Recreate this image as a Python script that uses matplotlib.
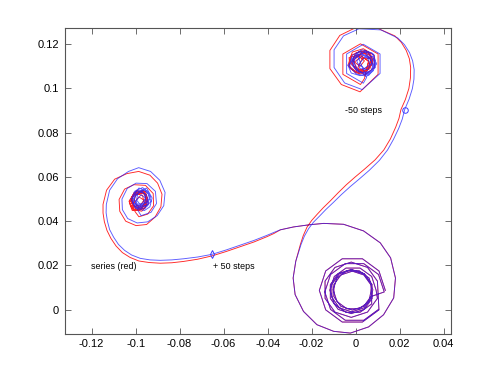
"""Two delay-embedded trajectories (red / blue) with +/-50 step markers."""
import matplotlib
matplotlib.use('Agg')
import matplotlib.pyplot as plt
from matplotlib.ticker import FuncFormatter

plt.rcParams['font.family'] = ['Liberation Sans', 'DejaVu Sans']
plt.rcParams['axes.unicode_minus'] = False

# ---- data ----------------------------------------------------------------
# upper spiral (centre tangle -> hex ring -> outer turn), blue
upper_blue_x = [0.0060, 0.0030, -0.0005, -0.0010, 0.0025, 0.0070, 0.0085, 0.0060, 0.0015, -0.0020,
                0.0000, 0.0045, 0.0090, 0.0080, 0.0040, 0.0015, 0.0040, 0.0065, 0.0050, 0.0005,
                -0.0025, 0.0010, 0.0060, 0.0095, 0.0075, 0.0030, -0.0015, -0.0030, 0.0005, 0.0050,
                0.0080, 0.0070, 0.0035, 0.0005, 0.0020, 0.0055, 0.0075, 0.0045, 0.0010, -0.0010,
                0.0015, 0.0060, 0.0085, 0.0065, 0.0025, -0.0005, -0.0035, -0.0020, 0.0020, 0.0065,
                0.0092, 0.0082, 0.0045, 0.0010, 0.0050,
                0.0035, -0.0041, -0.0041, 0.0035, 0.0111, 0.0111,
                0.0030, -0.0050, -0.0098, -0.0098, -0.0055, 0.0015, 0.0115, 0.0192, 0.0222, 0.0245,
                0.0259, 0.0266, 0.0265, 0.0258, 0.0243]
upper_blue_y = [0.1135, 0.1158, 0.1140, 0.1100, 0.1070, 0.1080, 0.1120, 0.1160, 0.1168, 0.1130,
                0.1085, 0.1065, 0.1095, 0.1145, 0.1140, 0.1110, 0.1090, 0.1110, 0.1150, 0.1155,
                0.1115, 0.1075, 0.1070, 0.1110, 0.1160, 0.1175, 0.1150, 0.1100, 0.1065, 0.1055,
                0.1080, 0.1130, 0.1150, 0.1125, 0.1090, 0.1085, 0.1120, 0.1165, 0.1160, 0.1120,
                0.1078, 0.1060, 0.1090, 0.1138, 0.1155, 0.1135, 0.1105, 0.1070, 0.1058, 0.1072,
                0.1115, 0.1155, 0.1170, 0.1145, 0.1050,
                0.1024, 0.1068, 0.1156, 0.1200, 0.1156, 0.1068,
                0.0995, 0.1025, 0.1095, 0.1175, 0.1238, 0.1270, 0.1265, 0.1228, 0.1198, 0.1162,
                0.1125, 0.1085, 0.1042, 0.1000, 0.0952]

# upper spiral, red
upper_red_x = [0.0000, 0.0030, 0.0065, 0.0075, 0.0045, 0.0005, -0.0020, 0.0000, 0.0045, 0.0080,
               0.0065, 0.0020, -0.0025, -0.0030, 0.0010, 0.0040, 0.0020, -0.0005, 0.0025, 0.0060,
               0.0050, 0.0000, -0.0035, -0.0015, 0.0035, 0.0085, 0.0085, 0.0040, 0.0010, 0.0030,
               0.0070, 0.0060, 0.0015, -0.0015, -0.0005, 0.0040, 0.0072, 0.0055, 0.0012, -0.0028,
               -0.0020, 0.0025, 0.0068, 0.0078, 0.0045, 0.0005, -0.0010, 0.0022, 0.0058, 0.0040,
               0.0022, -0.0058, -0.0058, 0.0022, 0.0102, 0.0102,
               0.0020, -0.0065, -0.0117, -0.0117, -0.0072, 0.0000, 0.0100, 0.0178, 0.0208, 0.0230,
               0.0244, 0.0250, 0.0249, 0.0242, 0.0226]
upper_red_y = [0.1140, 0.1165, 0.1150, 0.1110, 0.1075, 0.1080, 0.1115, 0.1160, 0.1172, 0.1135,
               0.1090, 0.1065, 0.1090, 0.1140, 0.1150, 0.1125, 0.1100, 0.1120, 0.1145, 0.1125,
               0.1085, 0.1070, 0.1105, 0.1165, 0.1180, 0.1150, 0.1095, 0.1060, 0.1095, 0.1135,
               0.1138, 0.1098, 0.1080, 0.1110, 0.1148, 0.1160, 0.1128, 0.1085, 0.1068, 0.1100,
               0.1150, 0.1170, 0.1158, 0.1115, 0.1080, 0.1088, 0.1128, 0.1152, 0.1122, 0.1045,
               0.1018, 0.1064, 0.1156, 0.1202, 0.1156, 0.1064,
               0.0985, 0.1018, 0.1090, 0.1172, 0.1240, 0.1275, 0.1272, 0.1238, 0.1208, 0.1172,
               0.1135, 0.1096, 0.1048, 0.1000, 0.0950]

# descent from the -50 step point to the big lower loop
down_blue_x = [0.0223, 0.0212, 0.0196, 0.0172, 0.0145, 0.0108, 0.0062, 0.0018, -0.0025,
               -0.0065, -0.0102, -0.0135, -0.0165, -0.0192, -0.0214, -0.0233, -0.0248]
down_blue_y = [0.0905, 0.0862, 0.0820, 0.0770, 0.0722, 0.0675, 0.0630, 0.0592, 0.0556,
               0.0520, 0.0484, 0.0453, 0.0422, 0.0395, 0.0366, 0.0332, 0.0295]
down_red_x = [0.0206, 0.0197, 0.0182, 0.0158, 0.0128, 0.0088, 0.0040, -0.0002, -0.0042,
              -0.0080, -0.0115, -0.0147, -0.0175, -0.0200, -0.0221, -0.0238, -0.0251]
down_red_y = [0.0905, 0.0865, 0.0825, 0.0772, 0.0722, 0.0677, 0.0635, 0.0600, 0.0565,
              0.0528, 0.0492, 0.0461, 0.0431, 0.0403, 0.0373, 0.0335, 0.0295]

# big lower loop (both series on top of each other)
loop_x = [-0.0272, -0.0284, -0.0275, -0.0237, -0.0176, -0.0100, -0.0024, 0.0059, 0.0127, 0.0173,
          0.0181, 0.0159, 0.0112, 0.0036, -0.0055, -0.0145, -0.0209, -0.0282, -0.0342]
loop_y = [0.0219, 0.0143, 0.0068, -0.0008, -0.0068, -0.0098, -0.0106, -0.0078, -0.0023, 0.0053,
          0.0143, 0.0234, 0.0302, 0.0356, 0.0386, 0.0390, 0.0384, 0.0374, 0.0361]

# tail towards the left spiral (through +50 step point), then the left tangle
tail_blue_x = [-0.0372, -0.0403, -0.0462, -0.0524, -0.0588, -0.0653, -0.0718, -0.0782, -0.0835, -0.0888,
               -0.0935, -0.0979, -0.1018, -0.1050, -0.1078, -0.1100, -0.1118, -0.1128, -0.1134, -0.1133,
               -0.1118, -0.1082, -0.1032, -0.0986, -0.0932, -0.0890, -0.0866, -0.0872, -0.0902, -0.0945,
               -0.0993, -0.1036, -0.1060, -0.1062, -0.1038, -0.0998, -0.0948, -0.0910, -0.0905, -0.0930,
               -0.0975,
               -0.0990, -0.1010, -0.1000, -0.0960, -0.0935, -0.0945, -0.0980, -0.1015, -0.0985, -0.0945,
               -0.0930, -0.0960, -0.1005, -0.1020, -0.0995, -0.0960, -0.0950, -0.0975, -0.0995, -0.0975,
               -0.0955, -0.0970, -0.1000, -0.0990, -0.0950, -0.0925,
               -0.0935, -0.0960, -0.1000, -0.1018, -0.1005, -0.0968, -0.0940, -0.0948, -0.0985, -0.1012,
               -0.0998, -0.0958, -0.0932, -0.0952, -0.0992, -0.1008, -0.0980, -0.0950, -0.0962, -0.0990]
tail_blue_y = [0.0349, 0.0336, 0.0313, 0.0292, 0.0270, 0.0250, 0.0238, 0.0230, 0.0225, 0.0223,
               0.0225, 0.0232, 0.0247, 0.0268, 0.0295, 0.0328, 0.0362, 0.0400, 0.0438, 0.0476,
               0.0540, 0.0592, 0.0625, 0.0642, 0.0625, 0.0585, 0.0530, 0.0470, 0.0425, 0.0397,
               0.0392, 0.0412, 0.0452, 0.0500, 0.0548, 0.0572, 0.0570, 0.0535, 0.0480, 0.0440,
               0.0425,
               0.0450, 0.0485, 0.0530, 0.0545, 0.0515, 0.0470, 0.0460, 0.0510, 0.0550, 0.0535,
               0.0490, 0.0455, 0.0465, 0.0500, 0.0540, 0.0525, 0.0485, 0.0470, 0.0495, 0.0520,
               0.0505, 0.0480, 0.0475, 0.0525, 0.0550, 0.0505,
               0.0465, 0.0448, 0.0458, 0.0495, 0.0535, 0.0552, 0.0528, 0.0488, 0.0468, 0.0482,
               0.0522, 0.0540, 0.0512, 0.0472, 0.0462, 0.0505, 0.0535, 0.0520, 0.0478, 0.0458]
tail_red_x = [-0.0372, -0.0403, -0.0462, -0.0524, -0.0588, -0.0653, -0.0718, -0.0782, -0.0835, -0.0888,
              -0.0938, -0.0985, -0.1025, -0.1060, -0.1089, -0.1112, -0.1130, -0.1142, -0.1148, -0.1148,
              -0.1132, -0.1095, -0.1040, -0.0986, -0.0935, -0.0900, -0.0880, -0.0885, -0.0912, -0.0950,
              -0.0998, -0.1045, -0.1072, -0.1075, -0.1050, -0.1008, -0.0955, -0.0920, -0.0918, -0.0945,
              -0.0985,
              -0.1000, -0.1022, -0.1010, -0.0970, -0.0945, -0.0958, -0.0995, -0.1025, -0.0995, -0.0955,
              -0.0942, -0.0972, -0.1015, -0.1030, -0.1005, -0.0968, -0.0960, -0.0985, -0.1005, -0.0985,
              -0.0962, -0.0980, -0.1012, -0.1000,
              -0.0955, -0.0945, -0.0975, -0.1015, -0.1028, -0.1008, -0.0965, -0.0948, -0.0968, -0.1005,
              -0.1022, -0.0998, -0.0958, -0.0950, -0.0978, -0.1010, -0.1018, -0.0990]
tail_red_y = [0.0344, 0.0330, 0.0306, 0.0285, 0.0263, 0.0243, 0.0228, 0.0218, 0.0212, 0.0210,
              0.0213, 0.0220, 0.0236, 0.0258, 0.0288, 0.0322, 0.0358, 0.0398, 0.0437, 0.0476,
              0.0540, 0.0590, 0.0615, 0.0625, 0.0608, 0.0572, 0.0522, 0.0465, 0.0418, 0.0385,
              0.0380, 0.0400, 0.0445, 0.0498, 0.0545, 0.0565, 0.0562, 0.0525, 0.0470, 0.0432,
              0.0420,
              0.0440, 0.0475, 0.0520, 0.0535, 0.0500, 0.0458, 0.0450, 0.0495, 0.0540, 0.0525,
              0.0480, 0.0445, 0.0455, 0.0490, 0.0530, 0.0515, 0.0475, 0.0462, 0.0485, 0.0510,
              0.0495, 0.0470, 0.0468, 0.0518,
              0.0535, 0.0495, 0.0452, 0.0448, 0.0482, 0.0528, 0.0540, 0.0508, 0.0462, 0.0452,
              0.0495, 0.0532, 0.0522, 0.0478, 0.0455, 0.0470, 0.0510, 0.0528]

# rings settling on the lower-right cycle (shared by both series)
rings_x = [0.0135, 0.0106, 0.0031, -0.0061, -0.0136, -0.0165, -0.0136, -0.0061, 0.0031, 0.0106,
           0.0099, 0.0054, -0.0020, -0.0094, -0.0139, -0.0139, -0.0094, -0.0020, 0.0054, 0.0099,
           0.0093, 0.0073, 0.0020, -0.0044, -0.0097, -0.0117, -0.0097, -0.0044, 0.0020, 0.0073,
           0.0072, 0.0038, -0.0018, -0.0074, -0.0108, -0.0108, -0.0074, -0.0018, 0.0038, 0.0072,
           0.0078, 0.0061, 0.0016, -0.0040, -0.0085, -0.0102, -0.0085, -0.0040, 0.0016, 0.0061,
           0.0075, 0.0039, -0.0020, -0.0079, -0.0115, -0.0115, -0.0079, -0.0020, 0.0039, 0.0075,
           0.0069, 0.0037, -0.0015, -0.0067, -0.0099, -0.0099, -0.0067, -0.0015, 0.0037, 0.0069,
           0.0130, 0.0104, 0.0037, -0.0047, -0.0114, -0.0140, -0.0114, -0.0047, 0.0037, 0.0104]
rings_y = [0.0087, 0.0175, 0.0230, 0.0230, 0.0175, 0.0087, -0.0001, -0.0056, -0.0056, -0.0001,
           0.0129, 0.0191, 0.0215, 0.0191, 0.0129, 0.0051, -0.0011, -0.0035, -0.0011, 0.0051,
           0.0088, 0.0150, 0.0188, 0.0188, 0.0150, 0.0088, 0.0026, -0.0012, -0.0012, 0.0026,
           0.0114, 0.0162, 0.0180, 0.0162, 0.0114, 0.0056, 0.0008, -0.0010, 0.0008, 0.0056,
           0.0090, 0.0143, 0.0176, 0.0176, 0.0143, 0.0090, 0.0037, 0.0004, 0.0004, 0.0037,
           0.0113, 0.0163, 0.0182, 0.0163, 0.0113, 0.0051, 0.0001, -0.0018, 0.0001, 0.0051,
           0.0113, 0.0157, 0.0174, 0.0157, 0.0113, 0.0059, 0.0015, -0.0002, 0.0015, 0.0059,
           0.0080, 0.0159, 0.0208, 0.0208, 0.0159, 0.0080, 0.0001, -0.0048, -0.0048, 0.0001]

minus50 = (0.0223, 0.0905)
plus50 = (-0.0653, 0.0250)

# ---- plot ------------------------------------------------------------------
red_x = upper_red_x + down_red_x + loop_x + tail_red_x
red_y = upper_red_y + down_red_y + loop_y + tail_red_y
blue_x = upper_blue_x + down_blue_x + loop_x + tail_blue_x
blue_y = upper_blue_y + down_blue_y + loop_y + tail_blue_y

fig = plt.figure(figsize=(4.98, 3.75), dpi=100)
ax = fig.add_axes([0.13, 0.11, 0.775, 0.815])

red = '#ff2525'
blue = '#1a1aff'
ax.plot(red_x, red_y, color=red, lw=0.65)
ax.plot(rings_x, rings_y, color=red, lw=0.65)
ax.plot(blue_x, blue_y, color=blue, lw=0.65, alpha=0.72)
ax.plot(rings_x, rings_y, color=blue, lw=0.65, alpha=0.72)

ax.plot(*minus50, 'o', mfc='none', mec='#3a3aff', ms=4, mew=0.7)
ax.plot(*plus50, 'd', mfc='none', mec='#3a3aff', ms=4, mew=0.7)

ax.text(-0.0047, 0.0899, '-50 steps', fontsize=6.4, va='center')
ax.text(-0.0648, 0.0196, '+ 50 steps', fontsize=6.4, va='center')
ax.text(-0.1201, 0.0196, 'series (red)', fontsize=6.4, va='center')

ax.set_xlim(-0.1322, 0.0432)
ax.set_ylim(-0.0109, 0.1273)
ax.set_xticks([-0.12, -0.1, -0.08, -0.06, -0.04, -0.02, 0, 0.02, 0.04])
ax.set_yticks([0, 0.02, 0.04, 0.06, 0.08, 0.1, 0.12])
fmt = FuncFormatter(lambda v, p: '%g' % round(v, 4))
ax.xaxis.set_major_formatter(fmt)
ax.yaxis.set_major_formatter(fmt)
ax.tick_params(direction='in', top=True, right=True, length=4, width=0.6,
               color='#555555', labelsize=8, pad=4)
for s in ax.spines.values():
    s.set_color('#555555')
    s.set_linewidth(0.8)

fig.savefig('out.png', dpi=100)
